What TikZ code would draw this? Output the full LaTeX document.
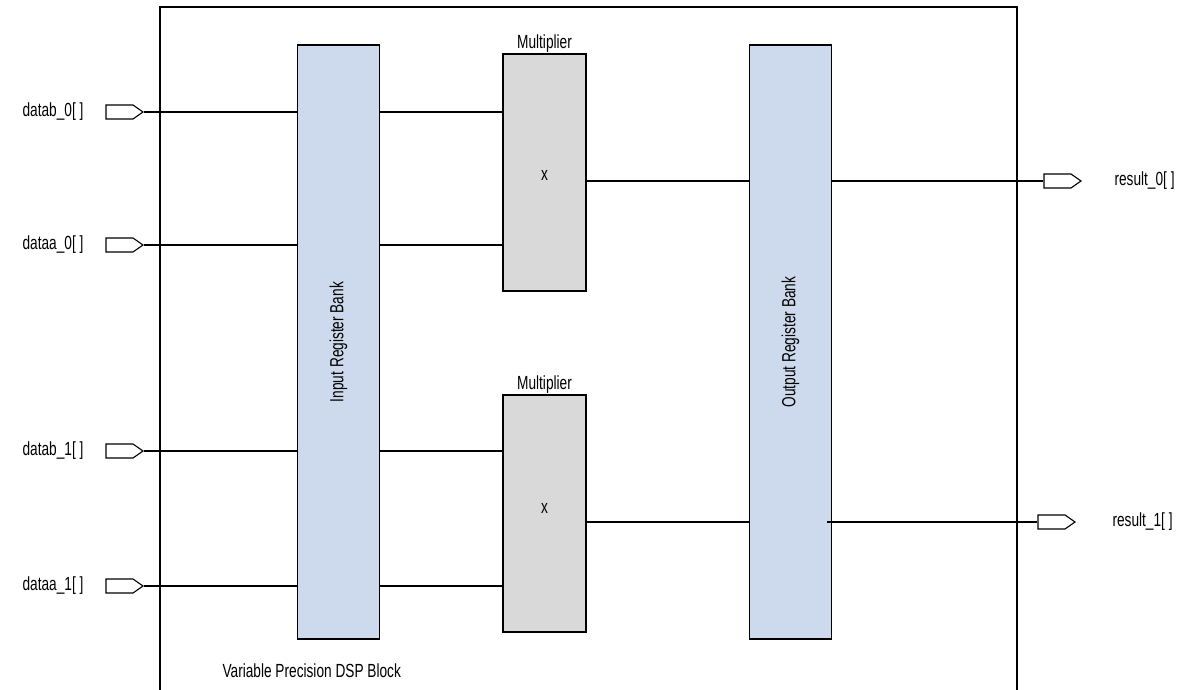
\documentclass[tikz,border=0pt]{standalone}
\usepackage{fontspec}
\setmainfont{Liberation Sans}[FakeStretch=0.72]
\usetikzlibrary{shapes.symbols}
\definecolor{bankblue}{HTML}{CDD9EC}
\definecolor{multgray}{HTML}{D9D9D9}

\begin{document}
\begin{tikzpicture}[
    x=1pt, y=-1pt,
    font=\fontsize{19}{22}\selectfont,
    bank/.style={draw, fill=bankblue, line width=1.2pt, minimum width=82pt, minimum height=594pt, inner sep=0pt},
    mult/.style={draw, fill=multgray, line width=1.2pt, minimum width=83pt, minimum height=237pt, inner sep=0pt},
    pin/.style={draw, signal, signal to=east, signal pointer angle=70, minimum width=37pt, minimum height=14pt, inner sep=0pt, line width=1.1pt},
    wire/.style={line width=1.1pt}
]
    \useasboundingbox (0,0) rectangle (1191,690);

    % DSP block frame, open at the bottom
    \draw[wire] (160,700) -- (160,7) -- (1017,7) -- (1017,700);
    \node[anchor=base west] (dsplabel) at (219,677) {Variable Precision DSP Block};

    % register banks and multipliers
    \node[bank] (inbank) at (338.5,342) {};
    \node[rotate=90] (inbanklabel) at (inbank.center) {Input Register Bank};
    \node[bank] (outbank) at (790.5,342) {};
    \node[rotate=90] (outbanklabel) at (outbank.center) {Output Register Bank};

    \node[mult] (mult1) at (544.5,172.5) {};
    \node[anchor=south, inner sep=1pt] (mult1label) at (mult1.north) {Multiplier};
    \node (mult1x) at (544.5,175) {x};
    \node[mult] (mult2) at (544.5,513.5) {};
    \node[anchor=south, inner sep=1pt] (mult2label) at (mult2.north) {Multiplier};
    \node (mult2x) at (544.5,508) {x};

    % input pins
    \node[pin] (datab0) at (119.5,112) {};
    \node[anchor=east] (datab0label) at (87,112) {datab\_0[ ]};
    \node[pin] (dataa0) at (119.5,245) {};
    \node[anchor=east] (dataa0label) at (87,245) {dataa\_0[ ]};
    \node[pin] (datab1) at (119.5,451) {};
    \node[anchor=east] (datab1label) at (87,451) {datab\_1[ ]};
    \node[pin] (dataa1) at (119.5,586) {};
    \node[anchor=east] (dataa1label) at (87,586) {dataa\_1[ ]};

    % output pins
    \node[pin] (result0) at (1057.5,181) {};
    \node[anchor=west] (result0label) at (1111,181) {result\_0[ ]};
    \node[pin] (result1) at (1051.5,522) {};
    \node[anchor=west] (result1label) at (1109,522) {result\_1[ ]};

    % wiring
    \draw[wire] (datab0.east) -- (datab0.east -| inbank.west);
    \draw[wire] (datab0.east -| inbank.east) -- (datab0.east -| mult1.west);
    \draw[wire] (dataa0.east) -- (dataa0.east -| inbank.west);
    \draw[wire] (dataa0.east -| inbank.east) -- (dataa0.east -| mult1.west);
    \draw[wire] (datab1.east) -- (datab1.east -| inbank.west);
    \draw[wire] (datab1.east -| inbank.east) -- (datab1.east -| mult2.west);
    \draw[wire] (dataa1.east) -- (dataa1.east -| inbank.west);
    \draw[wire] (dataa1.east -| inbank.east) -- (dataa1.east -| mult2.west);

    \draw[wire] (result0.west -| mult1.east) -- (result0.west -| outbank.west);
    \draw[wire] (result0.west -| outbank.east) -- (result0.west);
    \draw[wire] (result1.west -| mult2.east) -- (result1.west -| outbank.west);
    \draw[wire] (result1.west -| outbank.east) ++(-5,0) -- (result1.west);
\end{tikzpicture}
\end{document}
